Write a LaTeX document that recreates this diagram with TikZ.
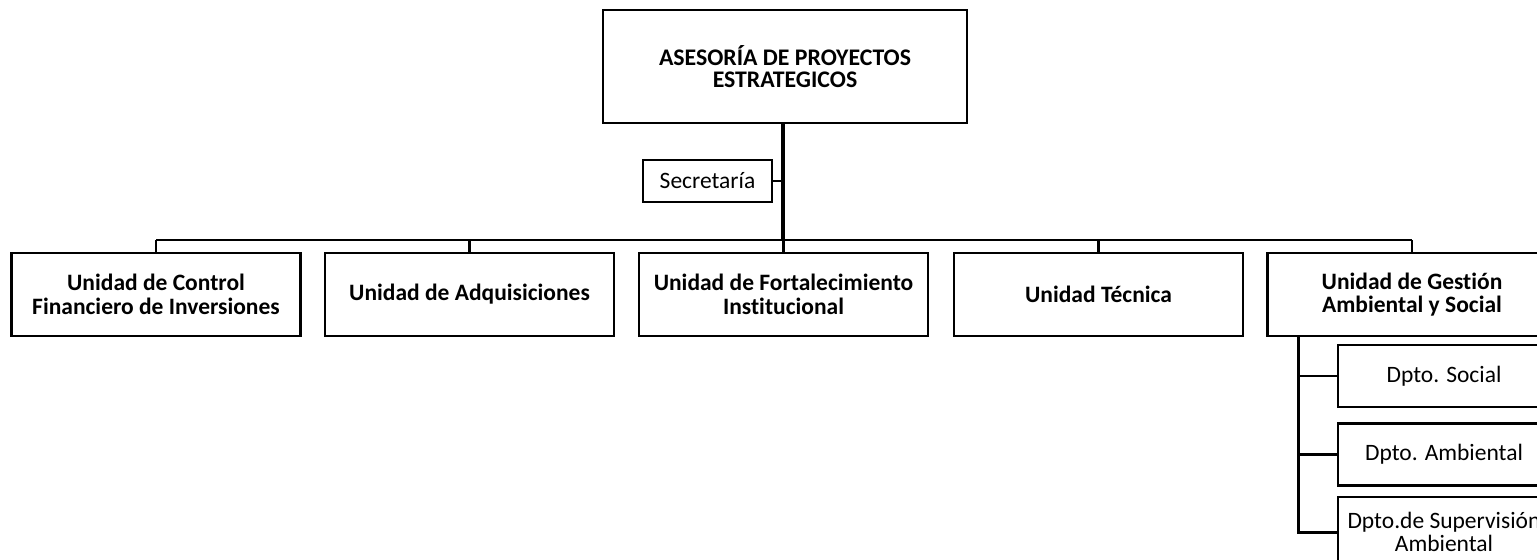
\documentclass[tikz,border=0pt]{standalone}
\usepackage{fontspec}
\setmainfont{Carlito}[Ligatures=NoCommon]
\usetikzlibrary{positioning,calc}

\tikzset{
    orgbox/.style={draw, line width=1.25pt, align=center, inner sep=1pt,
        font=\fontsize{11.75}{11.7}\selectfont},
    unitbox/.style={orgbox, minimum width=144.5pt, minimum height=41.5pt,
        font=\bfseries\fontsize{11.75}{11.7}\selectfont},
    dptobox/.style={orgbox, minimum width=106pt, minimum height=31pt},
    conn/.style={line width=1.1pt}
}

\begin{document}
\begin{tikzpicture}[x=0.5pt, y=-0.5pt]
    \useasboundingbox (0,0) rectangle (1537,559);
    \clip (0,0) rectangle (1537,559);

    % Head office
    \node[orgbox, minimum width=182pt, minimum height=56.5pt,
        font=\bfseries\fontsize{11.9}{10.6}\selectfont] (asesoria) at (785,66.5)
        {ASESORÍA DE PROYECTOS\\ESTRATEGICOS};
    \node[orgbox, minimum width=64.5pt, minimum height=21pt] (secretaria) at (707.5,181) {Secretaría};

    % Units
    \node[unitbox] (ucontrol) at (156,294.5) {Unidad de Control\\Financiero de Inversiones};
    \node[unitbox] (uadq) at (469.5,294.5) {Unidad de Adquisiciones};
    \node[unitbox] (ufort) at (783.5,294.5) {Unidad de Fortalecimiento\\Institucional};
    \node[unitbox] (utec) at (1098.5,294.5) {Unidad Técnica};
    \node[unitbox] (ugestion) at (1412,294.5) {Unidad de Gestión\\Ambiental y Social};

    % Departments
    \node[dptobox] (dsocial) at (1444,376) {Dpto. Social};
    \node[dptobox] (dambiental) at (1444,454.5) {Dpto. Ambiental};
    \node[dptobox, minimum height=35pt] (dsuperv) at (1444,532) {Dpto.de Supervisión\\Ambiental};

    % Lines
    \coordinate (bus) at (783,240);
    \draw[line width=1.7pt] (bus |- asesoria.south) -- (bus);
    \draw[conn] (secretaria.east) -- (secretaria.east -| bus);
    \draw[conn] (ucontrol.north |- bus) -- (ugestion.north |- bus);
    \foreach \u in {ucontrol,uadq,ufort,utec,ugestion}
        \draw[conn] (\u.north |- bus) -- (\u.north);

    \coordinate (spine) at (1298,336);
    \draw[line width=1.5pt] (spine) |- (dsuperv.west);
    \foreach \d in {dsocial,dambiental}
        \draw[conn] (spine |- \d.west) -- (\d.west);
\end{tikzpicture}
\end{document}
